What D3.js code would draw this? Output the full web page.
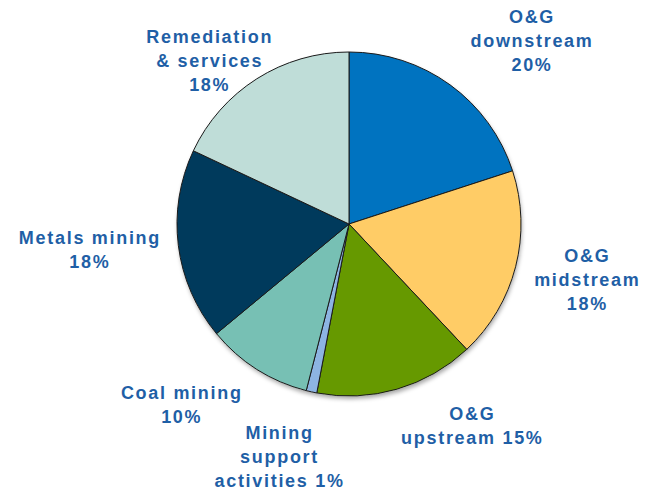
<!DOCTYPE html>
<html>
<head>
<meta charset="utf-8">
<script src="https://cdn.jsdelivr.net/npm/d3@7"></script>
<style>
  body { margin: 0; background: #fff; }
  svg text { font-family: "Liberation Sans", Arial, sans-serif; font-weight: bold; }
</style>
</head>
<body>
<svg class="chart"></svg>
<script>
// segments, clockwise from 12 o'clock
var labels = [
  ['O&G', 'downstream', '20%'],
  ['O&G', 'midstream', '18%'],
  ['O&G', 'upstream 15%'],
  ['Mining', 'support', 'activities 1%'],
  ['Coal mining', '10%'],
  ['Metals mining', '18%'],
  ['Remediation', '& services', '18%']
];
var values = [20, 18, 15, 1, 10, 18, 18];
var colors = ['#0073c0', '#ffcc66', '#669900', '#8db4e2', '#77c0b4', '#003a5c', '#bfddd8'];

var width = 646, height = 492;
var cx = 349, cy = 224, radius = 172;
var lineHeight = 24;

// small per-label shifts from the outer label arc
var labelNudge = [[39, 15], [1, -5], [55, -33], [-16, -6], [-36, -26], [-16, -5], [-8, 44]];

var svg = d3.select(".chart")
    .attr("width", width)
    .attr("height", height);

var chart = svg.append("g")
    .attr("transform", "translate(" + cx + "," + cy + ")");

var pie = d3.pie().sort(null).value(function(d) { return d; });
var arcs = pie(values);

var arc = d3.arc().innerRadius(0).outerRadius(radius);
var labelArc = d3.arc().innerRadius(245).outerRadius(245);

// soft shadow under the pie
var defs = svg.append("defs");
var f = defs.append("filter").attr("id", "shadow").attr("x", "-10%").attr("y", "-10%").attr("width", "120%").attr("height", "125%");
f.append("feDropShadow").attr("dx", 1).attr("dy", 3).attr("stdDeviation", 2).attr("flood-color", "#000").attr("flood-opacity", 0.35);

chart.append("circle")
    .attr("r", radius)
    .attr("fill", "#fff")
    .attr("filter", "url(#shadow)");

chart.selectAll("path.slice")
    .data(arcs)
    .enter().append("path")
    .attr("class", "slice")
    .attr("d", arc)
    .attr("fill", function(d, i) { return colors[i]; })
    .attr("stroke", "#1a1a1a")
    .attr("stroke-width", 1)
    .attr("stroke-linejoin", "round");

var txt = chart.selectAll("text.label")
    .data(arcs)
    .enter().append("text")
    .attr("class", "label")
    .attr("text-anchor", "middle")
    .attr("fill", "#1f5fa6")
    .style("font-size", "18px")
    .style("letter-spacing", "1.7px")
    .attr("transform", function(d, i) {
      var c = labelArc.centroid(d);
      return "translate(" + (c[0] + labelNudge[i][0]) + "," + (c[1] + labelNudge[i][1]) + ")";
    });

txt.each(function(d, i) {
  var lines = labels[i];
  var t = d3.select(this);
  lines.forEach(function(line, j) {
    t.append("tspan")
      .attr("x", 0)
      .attr("y", (j - (lines.length - 1) / 2) * lineHeight + 6)
      .text(line);
  });
});
</script>
</body>
</html>
